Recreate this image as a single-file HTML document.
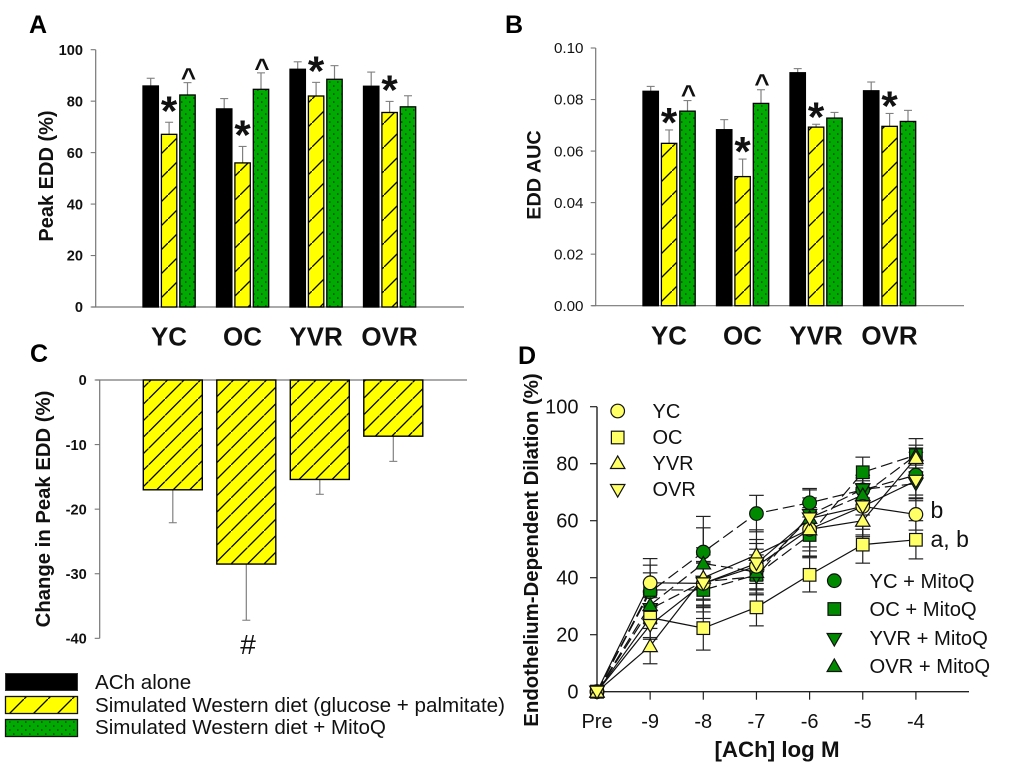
<!DOCTYPE html>
<html lang="en">
<head>
<meta charset="utf-8">
<title>Peak EDD and EDD AUC figure</title>
<style>
html,body{margin:0;padding:0;background:#fff;}
svg{display:block;font-family:"Liberation Sans",Arial,sans-serif;filter:blur(0.35px);}
</style>
</head>
<body>
<svg id="figure" xmlns="http://www.w3.org/2000/svg" width="1020" height="768" viewBox="0 0 1020 768">
  <defs>
    <pattern id="hatch" width="24" height="24" patternUnits="userSpaceOnUse" patternTransform="translate(0 3)">
      <rect width="24" height="24" fill="#ffff00"/>
      <path d="M-2 26 L26 -2" stroke="#000" stroke-width="1.3"/>
    </pattern>
    <pattern id="hatchC" width="16.5" height="16.5" patternUnits="userSpaceOnUse" patternTransform="translate(0 3)">
      <rect width="16.5" height="16.5" fill="#ffff00"/>
      <path d="M-2 18.5 L18.5 -2" stroke="#000" stroke-width="1.3"/>
    </pattern>
    <pattern id="dots" width="8" height="8" patternUnits="userSpaceOnUse">
      <rect width="8" height="8" fill="#00aa00"/>
      <circle cx="1.8" cy="2" r="0.8" fill="#002a00"/>
      <circle cx="5.8" cy="6" r="0.8" fill="#002a00"/>
    </pattern>
  </defs>
  <rect width="1020" height="768" fill="#fff"/>

  <text x="29" y="33" font-size="25" font-weight="bold">A</text>
  <text x="505" y="33" font-size="25" font-weight="bold">B</text>
  <text x="30" y="362" font-size="25" font-weight="bold">C</text>
  <text x="518" y="364" font-size="25" font-weight="bold">D</text>

  <text transform="rotate(-90 53 176)" x="53" y="176" font-size="20" font-weight="bold" text-anchor="middle" fill="#111">Peak EDD (%)</text>
  <text transform="rotate(-90 540.5 175)" x="540.5" y="175" font-size="19.8" font-weight="bold" text-anchor="middle" fill="#111">EDD AUC</text>
  <text transform="rotate(-90 50 509)" x="50" y="509" font-size="20.3" font-weight="bold" text-anchor="middle" fill="#111">Change in Peak EDD (%)</text>
  <text transform="rotate(-90 538 550)" x="538" y="550" font-size="20.4" font-weight="bold" text-anchor="middle" fill="#111">Endothelium-Dependent Dilation (%)</text>
  <text x="777" y="757" font-size="22.3" font-weight="bold" text-anchor="middle" fill="#111">[ACh] log M</text>

  <g id="panelA"></g>
  <g id="panelB"></g>
  <g id="panelC"></g>
  <g id="panelD"></g>

  <text x="248" y="654" font-size="28" text-anchor="middle" fill="#111">#</text>

  <g>
    <rect x="5.5" y="673.5" width="72" height="17" fill="#000" stroke="#333" stroke-width="1"/>
    <text x="95" y="689" font-size="20.6" fill="#111">ACh alone</text>
    <rect x="5.5" y="696.5" width="72" height="17" fill="url(#hatch)" stroke="#111" stroke-width="1.3"/>
    <text x="95" y="712" font-size="20.6" fill="#111">Simulated Western diet (glucose + palmitate)</text>
    <rect x="5.5" y="719.5" width="72" height="17" fill="url(#dots)" stroke="#111" stroke-width="1.3"/>
    <text x="95" y="734" font-size="20.6" fill="#111">Simulated Western diet + MitoQ</text>
  </g>

  <g font-size="20" fill="#111">
    <text x="652.5" y="418">YC</text>
    <text x="652.5" y="444">OC</text>
    <text x="652.5" y="470">YVR</text>
    <text x="652.5" y="496">OVR</text>
  </g>
  <g font-size="20.2" fill="#111">
    <text x="869.5" y="588">YC + MitoQ</text>
    <text x="869.5" y="616">OC + MitoQ</text>
    <text x="869.5" y="645">YVR + MitoQ</text>
    <text x="869.5" y="673">OVR + MitoQ</text>
  </g>
  <text x="930.5" y="518" font-size="23" fill="#111">b</text>
  <text x="930.5" y="547" font-size="23" fill="#111">a, b</text>
  <g id="legendMarkers"></g>
</svg>

<script>
// ---- Shared categories ----
const categories = ['YC', 'OC', 'YVR', 'OVR'];

// ---- Panel A: Peak EDD (%) ----
const peakTicks = [0, 20, 40, 60, 80, 100];
const peakAch = [85.9, 77, 92.4, 85.8];
const peakAchErr = [3, 4, 2.9, 5.5];
const peakWestern = [67.1, 56, 82, 75.6];
const peakWesternErr = [4.7, 6.4, 5.3, 4.3];
const peakMitoq = [82.4, 84.6, 88.5, 77.8];
const peakMitoqErr = [4.8, 6.4, 5.3, 4.3];
const peakWesternMarks = ['*', '*', '*', '*'];
const peakMitoqMarks = ['^', '^', '', ''];

// ---- Panel B: EDD AUC ----
const aucTicks = [0, 0.02, 0.04, 0.06, 0.08, 0.10];
const aucAch = [0.0832, 0.0683, 0.0904, 0.0834];
const aucAchErr = [0.0019, 0.0039, 0.0016, 0.0034];
const aucWestern = [0.063, 0.0501, 0.0693, 0.0696];
const aucWesternErr = [0.0052, 0.0068, 0.0011, 0.005];
const aucMitoq = [0.0755, 0.0785, 0.0728, 0.0715];
const aucMitoqErr = [0.0041, 0.0053, 0.0022, 0.0043];
const aucWesternMarks = ['*', '*', '*', '*'];
const aucMitoqMarks = ['^', '^', '', ''];

// ---- Panel C: change in peak EDD ----
const changeTicks = [0, -10, -20, -30, -40];
const changeValues = [-17, -28.5, -15.4, -8.7];
const changeErr = [5.1, 8.7, 2.3, 3.9];

// ---- Panel D: dose response ----
const doseLabels = ['Pre', '-9', '-8', '-7', '-6', '-5', '-4'];
const dilationTicks = [0, 20, 40, 60, 80, 100];
const ycValues = [0, 38.2, 38, 44, 57, 65, 62.2];
const ycErr = [0, 8.5, 7.6, 9.4, 9.4, 10, 5.5];
const ocValues = [0, 26, 22.3, 29.6, 41, 51.6, 53.3];
const ocErr = [0, 7, 7.7, 6.5, 6, 6.5, 6.7];
const yvrValues = [0, 16, 40, 48, 57, 60, 82];
const yvrErr = [0, 6.2, 10.5, 8.8, 7.6, 5.6, 3.5];
const ovrValues = [0, 23.4, 38, 45, 60.8, 65, 74];
const ovrErr = [0, 5, 10, 7, 10, 8, 7];
const ycMitoqValues = [0, 35, 49, 62.5, 66.3, 70.8, 76];
const ycMitoqErr = [0, 9.4, 12.5, 6.4, 5, 5, 8];
const ocMitoqValues = [0, 35.7, 35.7, 41, 55, 77, 83];
const ocMitoqErr = [0, 6, 10, 7, 7.6, 5.3, 5.8];
const yvrMitoqValues = [0, 29, 38.6, 40.4, 62, 71, 73];
const yvrMitoqErr = [0, 5, 6.5, 4.7, 6, 3, 4];
const ovrMitoqValues = [0, 30.4, 45, 42, 61, 69, 83];
const ovrMitoqErr = [0, 5, 12.5, 8, 5, 7, 3.5];

const NS = 'http://www.w3.org/2000/svg';
function mk(tag, attrs, parent) {
  const node = document.createElementNS(NS, tag);
  for (const k in attrs) node.setAttribute(k, attrs[k]);
  parent.appendChild(node);
  return node;
}

function drawBarAxes(parent, cfg) {
  const yAxis = mk('line', {x1: cfg.axisX, x2: cfg.axisX, y1: cfg.y(cfg.ticks[cfg.ticks.length - 1]), y2: cfg.y(cfg.ticks[0]), stroke: '#777', 'stroke-width': 1.2}, parent);
  
  
  const xAxis = mk('line', {x1: cfg.axisX - 4, x2: cfg.axisEnd, y1: cfg.y(cfg.baseline), y2: cfg.y(cfg.baseline), stroke: '#777', 'stroke-width': 1.2}, parent);
  
  
  cfg.ticks.forEach(function (t) {
    const tick = mk('line', {x1: cfg.axisX - 5, x2: cfg.axisX, y1: cfg.y(t), y2: cfg.y(t), stroke: '#777', 'stroke-width': 1.1}, parent);
    
    
    const label = mk('text', {x: cfg.labelX, y: cfg.y(t) + 5.2, 'font-size': cfg.labelSize, 'font-weight': cfg.labelWeight, 'text-anchor': 'end', fill: '#111'}, parent);
    label.textContent = cfg.format(t);
    
    
  });
}

function drawGroupedBars(parent, cfg) {
  const step = 18.4, groupStep = 73.5, width = 15.4;
  const fills = ['#000', 'url(#hatch)', 'url(#dots)'];
  const fs = cfg.series;
  fs.forEach(function (s, j) {
    s.values.forEach(function (v, i) {
      const x = cfg.barStart + i * groupStep + j * step;
      const cx = x + width / 2;
      const top = cfg.y(v);
      const errTop = cfg.y(v + s.errs[i]);
      const stem = mk('line', {x1: cx, x2: cx, y1: top, y2: errTop, stroke: '#808080', 'stroke-width': 1.2}, parent);
      
      
      const cap = mk('line', {x1: cx - 4, x2: cx + 4, y1: errTop, y2: errTop, stroke: '#808080', 'stroke-width': 1.1}, parent);
      
      
      const bar = mk('rect', {x: x, y: top, width: width, height: cfg.y(0) - top, fill: fills[j], stroke: '#000', 'stroke-width': 1.3}, parent);
      
      
      const mark = s.marks ? s.marks[i] : '';
      if (mark === '*') {
        const star = mk('text', {x: cx, y: errTop - cfg.starGap + 21, 'font-size': 42, 'font-weight': 'bold', 'text-anchor': 'middle', fill: '#111'}, parent);
        star.textContent = mark;
        
        
      } else if (mark === '^') {
        const caret = mk('text', {x: cx + 1, y: errTop - cfg.caretGap + 14.5, 'font-size': 26, 'font-weight': 'bold', 'text-anchor': 'middle', fill: '#111'}, parent);
        caret.textContent = mark;
        
        
      }
    });
  });
  categories.forEach(function (c, i) {
    const label = mk('text', {x: cfg.barStart + 26 + i * groupStep, y: cfg.catY, 'font-size': 26, 'font-weight': 'bold', 'text-anchor': 'middle', fill: '#111'}, parent);
    label.textContent = c;
    
    
  });
}

// Panel A
const yA = function (v) { return 307 - v * 2.573; };
const gA = document.getElementById('panelA');
drawBarAxes(gA, {axisX: 95.7, axisEnd: 464, y: yA, ticks: peakTicks, baseline: 0, labelX: 83, labelSize: 14.6, labelWeight: 'bold', format: function (t) { return String(t); }});
drawGroupedBars(gA, {barStart: 143, y: yA, starGap: 18, caretGap: 11, catY: 345.5, series: [
  {values: peakAch, errs: peakAchErr},
  {values: peakWestern, errs: peakWesternErr, marks: peakWesternMarks},
  {values: peakMitoq, errs: peakMitoqErr, marks: peakMitoqMarks}
]});

// Panel B
const yB = function (v) { return 305.7 - v * 2577; };
const gB = document.getElementById('panelB');
drawBarAxes(gB, {axisX: 595.7, axisEnd: 964, y: yB, ticks: aucTicks, baseline: 0, labelX: 583.5, labelSize: 15.2, labelWeight: 'normal', format: function (t) { return t.toFixed(2); }});
drawGroupedBars(gB, {barStart: 643, y: yB, starGap: 14, caretGap: 12, catY: 344.5, series: [
  {values: aucAch, errs: aucAchErr},
  {values: aucWestern, errs: aucWesternErr, marks: aucWesternMarks},
  {values: aucMitoq, errs: aucMitoqErr, marks: aucMitoqMarks}
]});

// Panel C
const yC = function (v) { return 380 - v * 6.458; };
const gC = document.getElementById('panelC');
drawBarAxes(gC, {axisX: 99.7, axisEnd: 467, y: yC, ticks: changeTicks, baseline: 0, labelX: 86.7, labelSize: 14.6, labelWeight: 'bold', format: function (t) { return String(t); }});
changeValues.forEach(function (v, i) {
  const x = 143.3 + i * 73.5;
  const w = 59;
  const cx = x + w / 2;
  const bottom = yC(v);
  const errEnd = yC(v - changeErr[i]);
  const stem = mk('line', {x1: cx, x2: cx, y1: bottom, y2: errEnd, stroke: '#808080', 'stroke-width': 1.2}, gC);
  
  
  const cap = mk('line', {x1: cx - 4, x2: cx + 4, y1: errEnd, y2: errEnd, stroke: '#808080', 'stroke-width': 1.1}, gC);
  
  
  const bar = mk('rect', {x: x, y: yC(0), width: w, height: bottom - yC(0), fill: 'url(#hatchC)', stroke: '#000', 'stroke-width': 1.4}, gC);
  
  
});

// Panel D
const xD = function (i) { return 597 + i * 53.15; };
const yD = function (v) { return 691.7 - v * 2.85; };
const gD = document.getElementById('panelD');
const YELLOW = '#ffff66';
const GREEN = '#008a00';

const dAxisY = mk('line', {x1: 597, x2: 597, y1: yD(100), y2: yD(0), stroke: '#222', 'stroke-width': 1.4}, gD);


const dAxisX = mk('line', {x1: 597, x2: 969, y1: yD(0), y2: yD(0), stroke: '#222', 'stroke-width': 1.4}, gD);


dilationTicks.forEach(function (t) {
  const tick = mk('line', {x1: 590, x2: 597, y1: yD(t), y2: yD(t), stroke: '#222', 'stroke-width': 1.2}, gD);
  
  
  const label = mk('text', {x: 578.5, y: yD(t) + 7, 'font-size': 20, 'text-anchor': 'end', fill: '#111'}, gD);
  label.textContent = String(t);
  
  
});
doseLabels.forEach(function (d, i) {
  if (i > 0) {
    const tick = mk('line', {x1: xD(i), x2: xD(i), y1: yD(0), y2: yD(0) + 8, stroke: '#222', 'stroke-width': 1.2}, gD);
    
    
  }
  const label = mk('text', {x: xD(i), y: 728, 'font-size': 20, 'text-anchor': 'middle', fill: '#111'}, gD);
  label.textContent = d;
  
  
});

function drawMarker(parent, shape, cx, cy, fill) {
  let m;
  const st = {fill: fill, stroke: '#111', 'stroke-width': 1.2};
  if (shape === 'circle') {
    m = mk('circle', Object.assign({cx: cx, cy: cy, r: 6.8}, st), parent);
  } else if (shape === 'square') {
    m = mk('rect', Object.assign({x: cx - 6.3, y: cy - 6.3, width: 12.6, height: 12.6}, st), parent);
  } else if (shape === 'up') {
    m = mk('polygon', Object.assign({points: (cx - 7.2) + ',' + (cy + 5.5) + ' ' + (cx + 7.2) + ',' + (cy + 5.5) + ' ' + cx + ',' + (cy - 7)}, st), parent);
  } else {
    m = mk('polygon', Object.assign({points: (cx - 7.2) + ',' + (cy - 5.5) + ' ' + (cx + 7.2) + ',' + (cy - 5.5) + ' ' + cx + ',' + (cy + 7)}, st), parent);
  }
  return m;
}

const lineSeries = [
  {values: ycMitoqValues, errs: ycMitoqErr, shape: 'circle', fill: GREEN, dash: '12 5'},
  {values: ocMitoqValues, errs: ocMitoqErr, shape: 'square', fill: GREEN, dash: '12 5'},
  {values: yvrMitoqValues, errs: yvrMitoqErr, shape: 'down', fill: GREEN, dash: '12 5'},
  {values: ovrMitoqValues, errs: ovrMitoqErr, shape: 'up', fill: GREEN, dash: '12 5'},
  {values: ycValues, errs: ycErr, shape: 'circle', fill: YELLOW, dash: ''},
  {values: ocValues, errs: ocErr, shape: 'square', fill: YELLOW, dash: ''},
  {values: yvrValues, errs: yvrErr, shape: 'up', fill: YELLOW, dash: ''},
  {values: ovrValues, errs: ovrErr, shape: 'down', fill: YELLOW, dash: ''}
];

lineSeries.forEach(function (s) {
  s.errs.forEach(function (e, i) {
    if (e <= 0) return;
    const cx = xD(i);
    const hi = yD(s.values[i] + e);
    const lo = yD(s.values[i] - e);
    const stem = mk('line', {x1: cx, x2: cx, y1: hi, y2: lo, stroke: '#222', 'stroke-width': 1.2}, gD);
    
    
    const capHi = mk('line', {x1: cx - 7.3, x2: cx + 7.3, y1: hi, y2: hi, stroke: '#222', 'stroke-width': 1.2}, gD);
    
    
    const capLo = mk('line', {x1: cx - 7.3, x2: cx + 7.3, y1: lo, y2: lo, stroke: '#222', 'stroke-width': 1.2}, gD);
    
    
  });
});
lineSeries.forEach(function (s) {
  const pts = s.values.map(function (v, i) { return xD(i) + ',' + yD(v); }).join(' ');
  const line = mk('polyline', {points: pts, fill: 'none', stroke: '#111', 'stroke-width': 1.2, 'stroke-dasharray': s.dash}, gD);
  
  
});
lineSeries.forEach(function (s) {
  s.values.forEach(function (v, i) {
    const marker = drawMarker(gD, s.shape, xD(i), yD(v), s.fill);
    
    
  });
});

// Legend markers
const gL = document.getElementById('legendMarkers');
const m1 = drawMarker(gL, 'circle', 617.7, 411, YELLOW);


const m2 = drawMarker(gL, 'square', 617.7, 437.5, YELLOW);


const m3 = drawMarker(gL, 'up', 617.7, 463, YELLOW);


const m4 = drawMarker(gL, 'down', 617.7, 490, YELLOW);


const m5 = drawMarker(gL, 'circle', 834.3, 580.7, GREEN);


const m6 = drawMarker(gL, 'square', 834.3, 609, GREEN);


const m7 = drawMarker(gL, 'down', 834.3, 639, GREEN);


const m8 = drawMarker(gL, 'up', 834.3, 666, GREEN);


</script>
</body>
</html>
